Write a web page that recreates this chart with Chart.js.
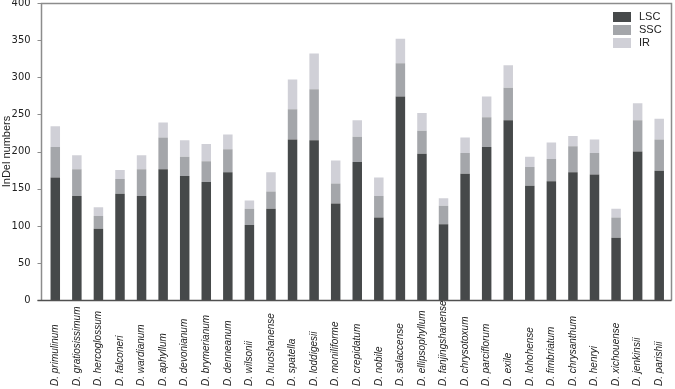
<!DOCTYPE html>
<html>
<head>
<meta charset="utf-8">
<script src="https://cdn.jsdelivr.net/npm/chart.js@4"></script>
<style>
  html, body { margin: 0; padding: 0; background: #fff; }
  #wrap { width: 675px; height: 389px; position: relative; }
</style>
</head>
<body>
<div id="wrap"><canvas id="chart"></canvas></div>
<script>
const species = ["D. primulinum", "D. gratiosissimum", "D. hercoglossum", "D. falconeri", "D. wardianum",
  "D. aphyllum", "D. devonianum", "D. brymerianum", "D. denneanum", "D. wilsonii", "D. huoshanense",
  "D. spatella", "D. loddigesii", "D. moniliforme", "D. crepidatum", "D. nobile", "D. salaccense",
  "D. ellipsophyllum", "D. fanjingshanense", "D. chrysotoxum", "D. parciflorum", "D. exile",
  "D. lohohense", "D. fimbriatum", "D. chrysanthum", "D. henryi", "D. xichouense", "D. jenkinsii",
  "D. parishii"];
const lscValues = [165, 140, 96, 143, 140, 176, 167, 159, 172, 101, 123, 216, 215, 130, 186, 111, 274,
  197, 102, 170, 206, 242, 154, 160, 172, 169, 84, 200, 174];
const sscValues = [41, 36, 17, 20, 36, 43, 26, 28, 31, 22, 23, 41, 69, 27, 34, 29, 45,
  31, 25, 28, 40, 44, 25, 30, 35, 29, 27, 42, 42];
const irValues = [28, 19, 12, 12, 19, 20, 22, 23, 20, 11, 26, 40, 48, 31, 22, 25, 33,
  24, 10, 21, 28, 30, 14, 22, 14, 18, 12, 23, 28];
const yTicks = [0, 50, 100, 150, 200, 250, 300, 350, 400];

// frame lines, tick marks, rotated species names and legend
const extras = {
  id: "extras",
  afterDraw(chart) {
    const ctx = chart.ctx;
    const x = chart.scales.x;
    const y = chart.scales.y;
    const left = 41.5, right = 671.5;
    const yTop = Math.round(y.getPixelForValue(400)) + 0.5;
    const yBottom = Math.round(y.getPixelForValue(0)) + 0.5;
    ctx.save();
    ctx.lineWidth = 1.5;
    ctx.strokeStyle = "#8c8c8c";
    ctx.beginPath();
    ctx.moveTo(left, yBottom);
    ctx.lineTo(left, yTop);
    ctx.lineTo(right, yTop);
    ctx.lineTo(right, yBottom);
    ctx.stroke();
    ctx.lineWidth = 1;
    yTicks.forEach(function (t) {
      const py = Math.round(y.getPixelForValue(t)) + 0.5;
      ctx.beginPath();
      ctx.moveTo(left - 4, py);
      ctx.lineTo(left, py);
      ctx.stroke();
    });
    ctx.lineWidth = 1.5;
    ctx.strokeStyle = "#505050";
    ctx.beginPath();
    ctx.moveTo(left - 4, yBottom);
    ctx.lineTo(right, yBottom);
    ctx.stroke();

    ctx.fillStyle = "#222";
    ctx.font = "italic 10px 'Liberation Sans', Arial, sans-serif";
    ctx.textAlign = "left";
    ctx.textBaseline = "middle";
    species.forEach(function (name, i) {
      ctx.save();
      ctx.translate(x.getPixelForValue(i), 386);
      ctx.rotate(-Math.PI / 2);
      ctx.fillText(name, 0, 0);
      ctx.restore();
    });

    ctx.font = "11px 'Liberation Sans', Arial, sans-serif";
    chart.data.datasets.forEach(function (ds, i) {
      const cy = 17 + i * 13;
      ctx.fillStyle = ds.backgroundColor;
      ctx.fillRect(613, cy - 5, 18, 10);
      ctx.fillStyle = "#222";
      ctx.fillText(ds.label, 639, cy);
    });
    ctx.restore();
  },
};

new Chart(document.getElementById("chart"), {
  type: "bar",
  data: {
    labels: species,
    datasets: [
      { label: "LSC", data: lscValues, backgroundColor: "#46494a" },
      { label: "SSC", data: sscValues, backgroundColor: "#a4a6aa" },
      { label: "IR", data: irValues, backgroundColor: "#d0d0d7" },
    ],
  },
  options: {
    responsive: true,
    maintainAspectRatio: false,
    animation: false,
    categoryPercentage: 0.88,
    barPercentage: 0.5,
    layout: { padding: { top: 3, right: 5, left: 0, bottom: 0 } },
    plugins: { legend: { display: false }, tooltip: { enabled: false } },
    scales: {
      x: {
        stacked: true,
        grid: { display: false },
        border: { display: false },
        ticks: { display: false },
        afterFit: function (s) { s.height = 89; },
      },
      y: {
        stacked: true,
        min: 0,
        max: 400,
        afterBuildTicks: function (s) { s.ticks = yTicks.map(function (v) { return { value: v }; }); },
        grid: { display: false, drawTicks: false },
        border: { display: false },
        ticks: {
          padding: 14,
          color: "#222",
          font: { family: "'Liberation Sans Narrow', 'DejaVu Sans Condensed', sans-serif", size: 11 },
        },
        title: {
          display: true,
          text: "InDel numbers",
          color: "#222",
          padding: 0,
          font: { family: "'Liberation Sans', Arial, sans-serif", size: 11 },
        },
        afterFit: function (s) {
          s.width = 44.5;
          s.paddingTop = 0;
          s.paddingBottom = 0;
        },
      },
    },
  },
  plugins: [extras],
});
</script>
</body>
</html>
